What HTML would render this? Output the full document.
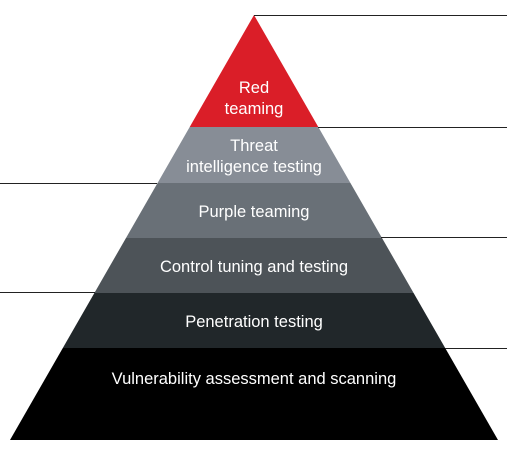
<!DOCTYPE html>
<html><head><style>
html,body{margin:0;padding:0;background:#fff;width:507px;height:452px;overflow:hidden}
text{font-family:"Liberation Sans",sans-serif;font-size:16.5px;fill:#fff;text-anchor:middle}
</style></head><body>
<svg width="507" height="452" viewBox="0 0 507 452" xmlns="http://www.w3.org/2000/svg">
<defs><clipPath id="p"><polygon points="254,15 498,440 10,440"/></clipPath></defs>
<g clip-path="url(#p)">
<rect x="0" y="0" width="507" height="127" fill="#da1e28"/>
<rect x="0" y="127" width="507" height="56" fill="#878d96"/>
<rect x="0" y="183" width="507" height="55" fill="#697077"/>
<rect x="0" y="238" width="507" height="55" fill="#4d5358"/>
<rect x="0" y="293" width="507" height="55" fill="#21272a"/>
<rect x="0" y="348" width="507" height="100" fill="#000"/>
</g>
<g stroke="#222" stroke-width="1">
<line x1="254" y1="15.5" x2="507" y2="15.5"/>
<line x1="318" y1="127.5" x2="507" y2="127.5"/>
<line x1="0" y1="183.5" x2="157" y2="183.5"/>
<line x1="381" y1="237.5" x2="507" y2="237.5"/>
<line x1="0" y1="292.5" x2="95" y2="292.5"/>
<line x1="445" y1="348.5" x2="507" y2="348.5"/>
</g>
<text x="254" y="93">Red</text>
<text x="254" y="114">teaming</text>
<text x="254" y="151">Threat</text>
<text x="254" y="172">intelligence testing</text>
<text x="254" y="217">Purple teaming</text>
<text x="254" y="272">Control tuning and testing</text>
<text x="254" y="327">Penetration testing</text>
<text x="254" y="384">Vulnerability assessment and scanning</text>
</svg>
</body></html>
